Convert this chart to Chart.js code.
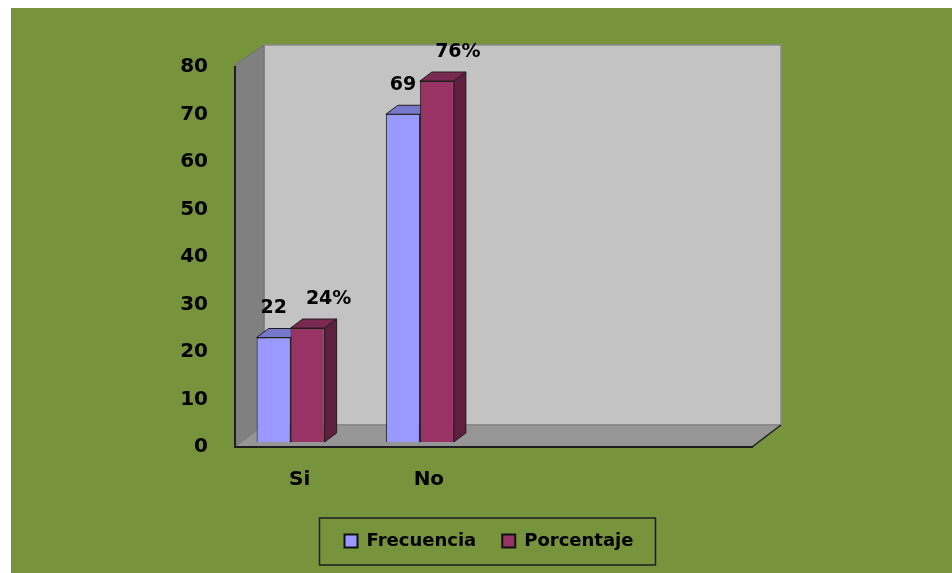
<!DOCTYPE html>
<html>
<head>
<meta charset="utf-8">
<script src="https://cdn.jsdelivr.net/npm/chart.js@4.4.0/dist/chart.umd.min.js"></script>
<style>
  html, body { margin: 0; padding: 0; background: #fff; }
</style>
</head>
<body>
<canvas id="grafico" width="952" height="573"></canvas>
<script>
// --- datos ---
const categorias = ['Si', 'No', '', ''];
const frecuencia = [22, 69, null, null];
const porcentaje = [24, 76, null, null];
const ticksY = [0, 10, 20, 30, 40, 50, 60, 70, 80];

// --- estilos ---
const FUENTE = '"DejaVu Sans", Verdana, sans-serif';
const FONDO = '#77933c';
const BORDE = '#1e1e1e';
const PAREDES = { dx: 29, dy: 22 };
const BARRA = { dx: 12, dy: 9, sx: -9, sy: -5 };
const CARAS = [
  { top: '#7777cc', side: '#5c5c99' },
  { top: '#7a2951', side: '#611f40' },
];
const SUFIJOS = ['', '%'];
const DESPL_ETIQ = [0, 21];

function poligono(ctx, pts, fill, stroke, lw = 1) {
  ctx.beginPath();
  ctx.moveTo(pts[0][0], pts[0][1]);
  pts.slice(1).forEach(p => ctx.lineTo(p[0], p[1]));
  ctx.closePath();
  ctx.fillStyle = fill;
  ctx.fill();
  if (stroke) {
    ctx.strokeStyle = stroke;
    ctx.lineWidth = lw;
    ctx.stroke();
  }
}

// paredes, piso y caras 3D de las barras
const escena3d = {
  id: 'escena3d',
  beforeDraw(chart) {
    const { ctx, chartArea: a } = chart;
    const { dx, dy } = PAREDES;
    ctx.save();
    ctx.fillStyle = '#fff';
    ctx.fillRect(0, 0, chart.width, chart.height);
    ctx.fillStyle = FONDO;
    ctx.fillRect(11, 8, chart.width - 11, chart.height - 8);

    // pared del fondo
    poligono(ctx, [[a.left + dx, a.top - dy], [a.right + dx, a.top - dy],
      [a.right + dx, a.bottom - dy], [a.left + dx, a.bottom - dy]], '#c3c3c3', '#8a8a8a', 1.5);
    // pared lateral
    poligono(ctx, [[a.left, a.top - 2], [a.left + dx, a.top - dy],
      [a.left + dx, a.bottom - dy], [a.left, a.bottom]], '#808080', '#6e6e6e');
    // piso
    poligono(ctx, [[a.left, a.bottom], [a.left + dx, a.bottom - dy],
      [a.right + dx, a.bottom - dy], [a.right, a.bottom]], '#969696', '#7e7e7e');
    ctx.strokeStyle = BORDE;
    ctx.lineWidth = 1.5;
    ctx.beginPath();
    ctx.moveTo(a.right, a.bottom);
    ctx.lineTo(a.right + dx, a.bottom - dy);
    ctx.stroke();
    ctx.restore();
  },
  beforeDatasetsDraw(chart) {
    const ctx = chart.ctx;
    const { dx, dy } = BARRA;
    ctx.save();
    ctx.translate(BARRA.sx, BARRA.sy);
    chart.data.datasets.forEach((ds, i) => {
      chart.getDatasetMeta(i).data.forEach((bar, j) => {
        if (ds.data[j] == null) return;
        const { x, y, base, width } = bar.getProps(['x', 'y', 'base', 'width'], true);
        const l = x - width / 2, r = x + width / 2;
        poligono(ctx, [[l, y], [l + dx, y - dy], [r + dx, y - dy], [r, y]], CARAS[i].top, BORDE);
        poligono(ctx, [[r, y], [r + dx, y - dy], [r + dx, base - dy], [r, base]], CARAS[i].side, BORDE);
      });
    });
  },
  afterDatasetsDraw(chart) {
    const ctx = chart.ctx;
    ctx.font = 'bold 19px ' + FUENTE;
    ctx.fillStyle = '#000';
    ctx.textAlign = 'center';
    ctx.textBaseline = 'middle';
    chart.data.datasets.forEach((ds, i) => {
      chart.getDatasetMeta(i).data.forEach((bar, j) => {
        const v = ds.data[j];
        if (v == null) return;
        ctx.fillText(v + SUFIJOS[i], bar.x + DESPL_ETIQ[i], bar.y - 29);
      });
    });
    ctx.restore();
  },
  afterDraw(chart) {
    // recuadro de la leyenda
    const ctx = chart.ctx;
    const cajas = chart.legend.legendHitBoxes;
    const x0 = Math.min(...cajas.map(c => c.left)) - 25;
    const x1 = Math.max(...cajas.map(c => c.left + c.width)) + 22;
    const y0 = Math.min(...cajas.map(c => c.top)) - 14;
    const y1 = Math.max(...cajas.map(c => c.top + c.height)) + 15;
    ctx.save();
    ctx.strokeStyle = BORDE;
    ctx.lineWidth = 1.5;
    ctx.strokeRect(x0, y0, x1 - x0, y1 - y0);
    ctx.restore();
  },
};

new Chart(document.getElementById('grafico'), {
  type: 'bar',
  data: {
    labels: categorias,
    datasets: [
      {
        label: 'Frecuencia',
        data: frecuencia,
        backgroundColor: '#9999ff',
        borderColor: BORDE,
        borderWidth: 1,
        categoryPercentage: 0.526,
        barPercentage: 1,
      },
      {
        label: 'Porcentaje',
        data: porcentaje,
        backgroundColor: '#993366',
        borderColor: BORDE,
        borderWidth: 1,
        categoryPercentage: 0.526,
        barPercentage: 1,
      },
    ],
  },
  options: {
    responsive: false,
    animation: false,
    layout: { padding: { top: 67, left: 26, right: 0, bottom: 13 } },
    plugins: {
      tooltip: { enabled: false },
      legend: {
        position: 'bottom',
        labels: {
          color: '#000',
          font: { family: FUENTE, size: 18, weight: 'bold' },
          boxWidth: 13,
          boxHeight: 13,
          padding: 26,
          generateLabels(chart) {
            return Chart.defaults.plugins.legend.labels.generateLabels(chart)
              .map(it => ({ ...it, lineWidth: 2, strokeStyle: '#111' }));
          },
        },
      },
    },
    scales: {
      x: {
        grid: { display: false, drawTicks: false },
        border: { display: true, color: BORDE, width: 2 },
        ticks: {
          color: '#000',
          font: { family: FUENTE, size: 20, weight: 'bold' },
          padding: 21,
          maxRotation: 0,
          autoSkip: false,
        },
        afterFit(s) { s.height = 59; },
      },
      y: {
        min: ticksY[0],
        max: ticksY[ticksY.length - 1],
        grid: { display: false, drawTicks: false },
        border: { display: true, color: BORDE, width: 2 },
        ticks: {
          stepSize: ticksY[1] - ticksY[0],
          color: '#000',
          font: { family: FUENTE, size: 20, weight: 'bold' },
          padding: 27,
        },
        afterFit(s) { s.width = 209; },
      },
      // eje invisible que reserva el margen derecho
      relleno: {
        type: 'linear',
        position: 'right',
        grid: { display: false, drawTicks: false },
        border: { display: false },
        ticks: { display: false },
        afterFit(s) { s.width = 200; },
      },
    },
  },
  plugins: [escena3d],
});
</script>
</body>
</html>
